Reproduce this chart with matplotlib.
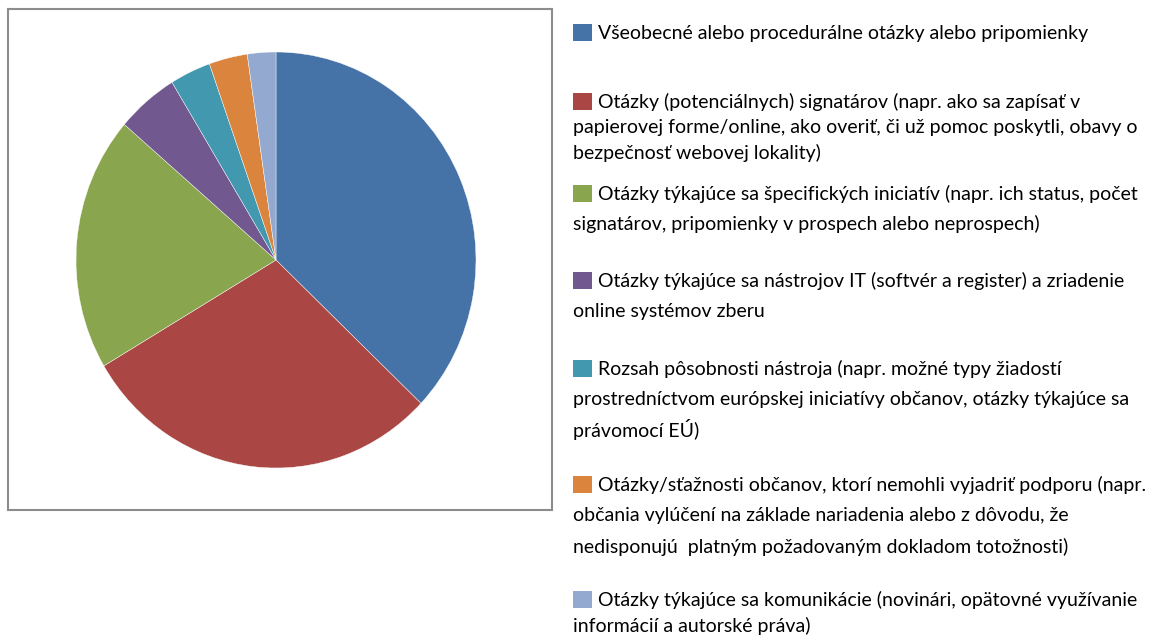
import matplotlib.pyplot as plt
from matplotlib.patches import Rectangle

# share of each category (%), clockwise from 12 o'clock
shares = [37.1, 29.4, 19.8, 5.0, 3.3, 3.1, 2.3]
colors = ["#4572A7", "#AA4643", "#89A54E", "#71588F", "#4198AF", "#DB843D", "#93A9CF"]

# legend labels, already broken into lines as in the original
labels = [
    ["Všeobecné alebo procedurálne otázky alebo pripomienky"],
    ["Otázky (potenciálnych) signatárov (napr. ako sa zapísať v",
     "papierovej forme/online, ako overiť, či už pomoc poskytli, obavy o",
     "bezpečnosť webovej lokality)"],
    ["Otázky týkajúce sa špecifických iniciatív (napr. ich status, počet",
     "signatárov, pripomienky v prospech alebo neprospech)"],
    ["Otázky týkajúce sa nástrojov IT (softvér a register) a zriadenie",
     "online systémov zberu"],
    ["Rozsah pôsobnosti nástroja (napr. možné typy žiadostí",
     "prostredníctvom európskej iniciatívy občanov, otázky týkajúce sa",
     "právomocí EÚ)"],
    ["Otázky/sťažnosti občanov, ktorí nemohli vyjadriť podporu (napr.",
     "občania vylúčení na základe nariadenia alebo z dôvodu, že",
     "nedisponujú  platným požadovaným dokladom totožnosti)"],
    ["Otázky týkajúce sa komunikácie (novinári, opätovné využívanie",
     "informácií a autorské práva)"],
]

W, H = 1160, 636
fig = plt.figure(figsize=(W / 100, H / 100), dpi=100)

# plot area box (pixels, from top-left)
bx0, by0, bx1, by1 = 8, 9, 552, 510
ax = fig.add_axes([bx0 / W, 1 - by1 / H, (bx1 - bx0) / W, (by1 - by0) / H])
ax.pie(shares, colors=colors, startangle=90, counterclock=False,
       wedgeprops=dict(linewidth=0.3, edgecolor="white"))
ax.set_aspect("auto")
cx, cy, rx, ry = 276, 260, 200, 208
ax.set_xlim(-(cx - bx0) / rx, (bx1 - cx) / rx)
ax.set_ylim(-(by1 - cy) / ry, (cy - by0) / ry)
ax.set_frame_on(True)
for s in ax.spines.values():
    s.set_color("#8c8c8c")
    s.set_linewidth(1.5)
ax.set_xticks([])
ax.set_yticks([])

# legend, drawn by hand to keep the Excel-like spacing
line_y = [[33], [102, 128, 153], [194, 224], [281, 312],
          [369, 399, 429], [485, 516, 547], [600, 626]]
font = ["Lato", "DejaVu Sans"]
for lines, ys, c in zip(labels, line_y, colors):
    fig.patches.append(Rectangle((573 / W, 1 - (ys[0] + 8) / H), 19 / W, 17 / H,
                                 transform=fig.transFigure, facecolor=c,
                                 edgecolor="none"))
    for i, (txt, y) in enumerate(zip(lines, ys)):
        x = 598 if i == 0 else 573
        fig.text(x / W, 1 - y / H, txt, family=font, fontsize=14,
                 va="center", ha="left", color="black")

fig.savefig("out.png", dpi=100)
